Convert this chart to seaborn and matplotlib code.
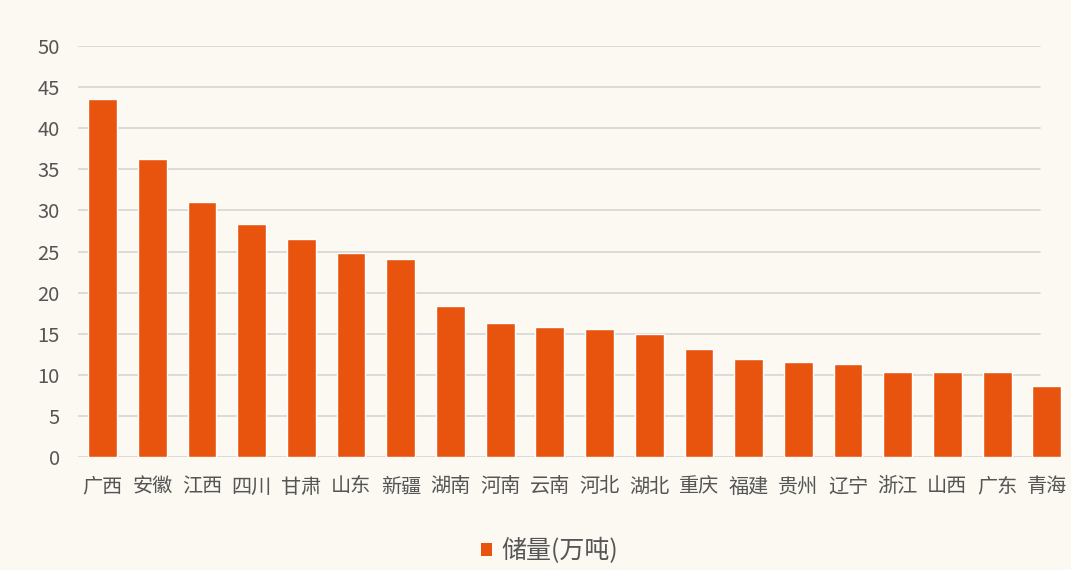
import matplotlib
matplotlib.use("Agg")
import matplotlib.pyplot as plt
import seaborn as sns
import pandas as pd
from matplotlib.patches import Patch

provinces = ["广西", "安徽", "江西", "四川", "甘肃", "山东", "新疆", "湖南", "河南", "云南",
             "河北", "湖北", "重庆", "福建", "贵州", "辽宁", "浙江", "山西", "广东", "青海"]
reserves = [43.5, 36.2, 31.0, 28.3, 26.5, 24.8, 24.1, 18.4, 16.3, 15.8,
            15.6, 15.0, 13.2, 11.9, 11.6, 11.35, 10.4, 10.4, 10.4, 8.6]
series_name = "储量(万吨)"
y_ticks = [0, 5, 10, 15, 20, 25, 30, 35, 40, 45, 50]

sns.set_theme(style="white")
plt.rcParams["font.family"] = ["Noto Sans CJK SC", "DejaVu Sans"]

bg = "#fcf9f3"
bar_color = "#e8540e"
text_color = "#555555"
grid_color = "#d6d6d6"

df = pd.DataFrame({"省份": provinces, "储量": reserves})

fig = plt.figure(figsize=(10.71, 5.70), dpi=100, facecolor=bg)
ax = fig.add_axes([0.0726, 0.1982, 0.928, 0.7211])
ax.set_facecolor(bg)

# horizontal guide lines behind the bars
for t in y_ticks:
    ax.axhline(t, xmin=0, xmax=0.968, color=grid_color, linewidth=1.2, zorder=0)

sns.barplot(data=df, x="省份", y="储量", color=bar_color, width=0.58,
            saturation=1, ax=ax, zorder=2)

ax.set_xlim(-0.5, len(provinces) - 0.5)
ax.set_ylim(0, 50)
ax.set_yticks(y_ticks)
ax.set_yticklabels([str(t) for t in y_ticks])
ax.set_xlabel("")
ax.set_ylabel("")
for s in ax.spines.values():
    s.set_visible(False)
ax.tick_params(axis="y", length=0, pad=13, labelsize=14.5, labelcolor=text_color)
ax.tick_params(axis="x", length=0, pad=14, labelsize=14.5, labelcolor=text_color)
ax.grid(False)

handle = Patch(facecolor=bar_color, edgecolor="none", label=series_name)
fig.legend(handles=[handle], loc="center", bbox_to_anchor=(0.513, 0.033),
           frameon=False, fontsize=18, labelcolor=text_color,
           handlelength=0.45, handleheight=0.45, handletextpad=0.35)

fig.savefig("out.png", dpi=100, facecolor=bg)
